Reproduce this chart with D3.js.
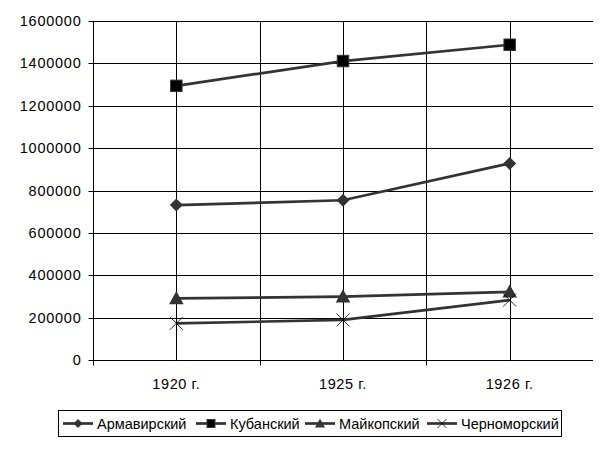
<!DOCTYPE html>
<html><head><meta charset="utf-8">
<script src="https://cdn.jsdelivr.net/npm/d3@7"></script>
<style>body{margin:0;background:#fff}svg{display:block}svg text{font-family:"Liberation Sans",Arial,sans-serif;font-size:14.5px;fill:#000}</style>
</head><body><svg id="c" width="602" height="449"></svg>
<script>
const categories = ["1920 г.", "1925 г.", "1926 г."];
const seriesNames = ["Армавирский", "Кубанский", "Майкопский", "Черноморский"];
const armavir = [731000, 754000, 928000];
const kuban = [1294000, 1411000, 1488000];
const maikop = [291000, 299000, 322000];
const chernomor = [173000, 189000, 283000];
const yTicks = [0, 200000, 400000, 600000, 800000, 1000000, 1200000, 1400000, 1600000];

const series = [
  {name: seriesNames[0], values: armavir, marker: "diamond"},
  {name: seriesNames[1], values: kuban, marker: "square"},
  {name: seriesNames[2], values: maikop, marker: "triangle"},
  {name: seriesNames[3], values: chernomor, marker: "x"}
];

const svg = d3.select("#c");
const L = 93, R = 593, T = 21, B = 360;
const x = d3.scaleBand().domain(categories).range([L, R]).padding(0);
const bw = x.bandwidth();
const cx = c => x(c) + bw / 2;
const y = d3.scaleLinear().domain([0, 1600000]).range([B, T]);

const g = svg.append("g");
g.selectAll(".hg").data(yTicks).enter().append("line")
  .attr("x1", L).attr("x2", R).attr("y1", d => Math.round(y(d)) + 0.5).attr("y2", d => Math.round(y(d)) + 0.5)
  .attr("stroke", "#000").attr("stroke-width", 1);
const vpos = [];
categories.forEach((c, i) => { vpos.push(cx(c)); if (i > 0) vpos.push(x(c)); });
g.selectAll(".vg").data(vpos).enter().append("line")
  .attr("x1", d => Math.round(d) + 0.5).attr("x2", d => Math.round(d) + 0.5).attr("y1", T).attr("y2", B)
  .attr("stroke", "#000").attr("stroke-width", 1);

const yAxis = d3.axisLeft(y).tickValues(yTicks).tickSize(5).tickPadding(7).tickFormat(d3.format("d"));
const ya = svg.append("g").attr("transform", `translate(${L + 0.5},0)`).call(yAxis);
ya.select(".domain").attr("stroke", "#000").attr("d", `M0,${T}V${B}`);
ya.selectAll(".tick line").attr("stroke", "#000");
ya.selectAll(".tick").attr("transform", d => `translate(0,${Math.round(y(d)) + 0.5})`);
ya.selectAll("text").attr("fill", "#000").style("letter-spacing", "0.75px");

const xa = svg.append("g").attr("transform", `translate(0,${B + 0.5})`);
xa.append("line").attr("x1", L).attr("x2", R).attr("stroke", "#000");
const tickX = [L, x(categories[1]), x(categories[2])];
xa.selectAll(".xt").data(tickX).enter().append("line")
  .attr("x1", d => Math.round(d) + 0.5).attr("x2", d => Math.round(d) + 0.5).attr("y1", 0).attr("y2", 5).attr("stroke", "#000");
xa.selectAll(".xl").data(categories).enter().append("text")
  .attr("x", d => cx(d)).attr("y", 28).attr("text-anchor", "middle").style("letter-spacing", "0.6px").text(d => d);

const line = d3.line().x((d, i) => cx(categories[i])).y(d => y(d));
const col = "#333";
series.forEach(s => {
  svg.append("path").datum(s.values).attr("d", line).attr("fill", "none")
    .attr("stroke", col).attr("stroke-width", 2.7);
});

function marker(sel, type, px, py, sz) {
  const h = sz / 2;
  if (type === "diamond") {
    sel.append("path").attr("d", `M${px},${py - h}L${px + h},${py}L${px},${py + h}L${px - h},${py}Z`).attr("fill", col);
  } else if (type === "square") {
    const s2 = sz * 0.88 / 2;
    sel.append("rect").attr("x", px - s2).attr("y", py - s2).attr("width", 2 * s2).attr("height", 2 * s2)
      .attr("fill", "#000").attr("stroke", "#333").attr("stroke-width", 1);
  } else if (type === "triangle") {
    const t = h * 1.12;
    sel.append("path").attr("d", `M${px},${py - t}L${px + t},${py + t * 0.8}L${px - t},${py + t * 0.8}Z`).attr("fill", col);
  } else {
    sel.append("path").attr("d", `M${px - h},${py - h}L${px + h},${py + h}M${px + h},${py - h}L${px - h},${py + h}`)
      .attr("stroke", "#000").attr("stroke-width", 0.8).attr("fill", "none");
  }
}
const mg = svg.append("g");
series.forEach(s => {
  s.values.forEach((v, i) => marker(mg, s.marker, cx(categories[i]), y(v), 13));
});

const lg = svg.append("g");
lg.append("rect").attr("x", 58.5).attr("y", 410.5).attr("width", 503).attr("height", 26)
  .attr("fill", "#fff").attr("stroke", "#000").attr("stroke-width", 1);
const legX = [63, 196, 305, 427];
series.forEach((s, i) => {
  const lx = legX[i], ly = 423.5;
  lg.append("line").attr("x1", lx).attr("x2", lx + 30).attr("y1", ly).attr("y2", ly).attr("stroke", col).attr("stroke-width", 2.7);
  marker(lg, s.marker, lx + 15, ly, 9);
  lg.append("text").attr("x", lx + 34).attr("y", ly + 5).text(s.name);
});
</script></body></html>
